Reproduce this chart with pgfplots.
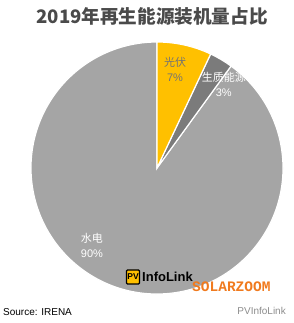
\documentclass[border=0pt]{standalone}
\usepackage{pgfplots}
\usepackage{pgfplotstable}
\pgfplotsset{compat=1.18}
\usepackage{fontspec}
\setmainfont{Liberation Sans}
\newfontfamily\cjk{Noto Sans CJK SC}
\newfontfamily\cjkb{Noto Sans CJK SC Bold}
\newfontfamily\monob{Liberation Mono}[BoldFont={* Bold}]
\definecolor{solar}{HTML}{FFC000}
\definecolor{bio}{HTML}{7B7B7B}
\definecolor{hydro}{HTML}{A5A5A5}
\definecolor{titlec}{HTML}{4A4A4A}
\definecolor{orangez}{HTML}{F07A1E}

\pgfplotstableread{
label value x y
光伏 7 0.143 0.782
生质能源 3 0.53 0.66
水电 90 -0.516 -0.615
}\piedata

\begin{document}
\begin{tikzpicture}
\pgfplotstablegetelem{0}{value}\of\piedata \global\let\vA\pgfplotsretval
\pgfplotstablegetelem{1}{value}\of\piedata \global\let\vB\pgfplotsretval
\pgfplotstablegetelem{2}{value}\of\piedata \global\let\vC\pgfplotsretval
\pgfmathsetmacro\aA{90-3.6*\vA}\global\let\aA\aA
\pgfmathsetmacro\aB{\aA-3.6*\vB}\global\let\aB\aB
\pgfmathsetmacro\aC{\aB-3.6*\vC}\global\let\aC\aC
\useasboundingbox (0,0) rectangle (294bp,323bp);
\begin{axis}[
  at={(31bp,29bp)}, anchor=south west,
  width=252bp, height=252bp, scale only axis,
  xmin=-1, xmax=1, ymin=-1, ymax=1,
  hide axis, clip=false,
]
\addplot[draw=none] coordinates {(0,0)};
\fill[hydro, draw=white, line width=1.2pt] (axis cs:0,0) -- (axis cs:{cos(\aB)},{sin(\aB)}) arc[start angle=\aB, end angle=\aC, radius=126bp] -- cycle;
\fill[bio, draw=white, line width=1.2pt] (axis cs:0,0) -- (axis cs:{cos(\aA)},{sin(\aA)}) arc[start angle=\aA, end angle=\aB, radius=126bp] -- cycle;
\fill[solar, draw=white, line width=1.2pt] (axis cs:0,0) -- (axis cs:0,1) arc[start angle=90, end angle=\aA, radius=126bp] -- cycle;
\node[align=center, text=black!55, font=\fontsize{11bp}{15bp}\selectfont] at (axis cs:0.143,0.782) {{\cjk 光伏}\\\vA\%};
\node[align=center, text=white, font=\fontsize{11bp}{15bp}\selectfont] at (axis cs:0.53,0.66) {{\cjk 生质能源}\\\vB\%};
\node[align=center, text=white, font=\fontsize{11bp}{15bp}\selectfont] at (axis cs:-0.516,-0.615) {{\cjk 水电}\\\vC\%};
\end{axis}
\node[text=titlec, font=\fontsize{18.6bp}{20bp}\selectfont] at (152bp,307bp) {\cjkb\bfseries 2019年再生能源装机量占比};
\node[anchor=west, font=\fontsize{10bp}{12bp}\selectfont, inner sep=0pt] at (3bp,11bp) {Source: IRENA};
\node[anchor=east, text=black!45, font=\fontsize{10bp}{12bp}\selectfont, inner sep=0pt] at (286bp,12bp) {PVInfoLink};
\node[anchor=west, text=orangez, font=\monob\bfseries\fontsize{14.5bp}{16bp}\selectfont, inner sep=0pt] at (192bp,36bp) {SOLARZOOM};
\node[draw=black, line width=1.2pt, fill=solar, inner sep=0pt, minimum width=13bp, minimum height=14bp, rounded corners=1pt, font=\bfseries\fontsize{8.5bp}{9bp}\selectfont] at (133bp,46bp) {PV};
\node[anchor=west, font=\bfseries\fontsize{13bp}{14bp}\selectfont, inner sep=0pt] at (142bp,46bp) {InfoLink};
\end{tikzpicture}
\end{document}
